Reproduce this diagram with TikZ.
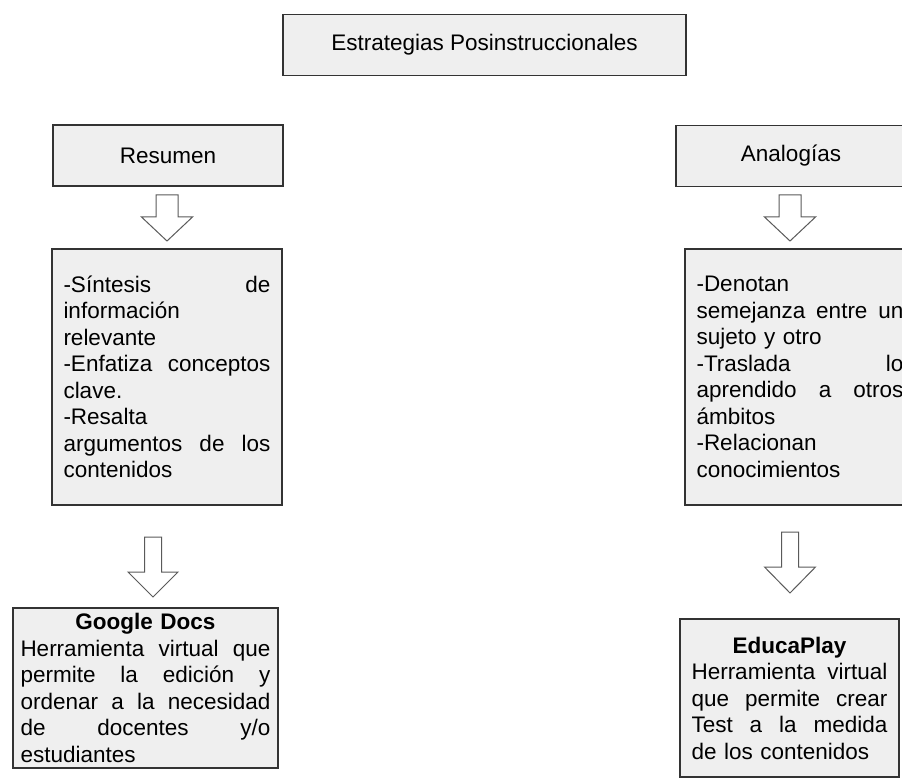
\documentclass[tikz,border=0pt]{standalone}
\usepackage{fontspec}
\setmainfont{Liberation Sans}
\definecolor{boxfill}{HTML}{EFEFEF}
\definecolor{boxline}{HTML}{333333}
\definecolor{arrline}{HTML}{5A5A5A}
\tikzset{
  boxnode/.style={draw=boxline, fill=boxfill, line width=1.3pt,
    font=\fontsize{22.5}{26.5}\selectfont, inner sep=0pt, anchor=center},
  textbox/.style={boxnode, align=left},
  arrowshape/.style={draw=arrline, fill=white, line width=1pt, line join=miter},
}
\newcommand{\jl}[1]{\leavevmode\hbox to\hsize{#1}}
\newcommand{\cl}[1]{\leavevmode\hbox to\hsize{\hfil#1\hfil}}
\newcommand{\blkarrow}[6]{\draw[arrowshape] ({#1-#3},#2) -- ({#1+#3},#2) -- ({#1+#3},#4) -- ({#1+#5},#4) -- (#1,#6) -- ({#1-#5},#4) -- ({#1-#3},#4) -- cycle;}
\begin{document}
\begin{tikzpicture}[x=1pt,y=-1pt]
\fill[white] (0,0) rectangle (902,778);
\useasboundingbox (0,0) rectangle (902,778);

\node[boxnode, minimum width=403pt, minimum height=61pt] (top) at (484.5,45) {Estrategias Posinstruccionales};
\node[boxnode, minimum width=230pt, minimum height=61pt] (res) at (168,155.5) {Resumen};
\node[boxnode, minimum width=230pt, minimum height=61pt] (ana) at (791,156) {Analogías};

\node[textbox, text width=207pt, inner xsep=11.5pt, minimum height=256pt] (resd) at (167,377) {%
\jl{-Síntesis\hfill de}\\
información\\
relevante\\
\jl{-Enfatiza\hfill conceptos}\\
clave.\\
-Resalta\\
\jl{argumentos\hfill de\hfill los}\\
contenidos};

\node[textbox, text width=207pt, inner xsep=11.5pt, minimum height=256pt] (anad) at (800,377) {%
-Denotan\\
\jl{semejanza\hfill entre\hfill un}\\
sujeto y otro\\
\jl{-Traslada\hfill lo}\\
\jl{aprendido\hfill a\hfill otros}\\
ámbitos\\
-Relacionan\\
conocimientos};

\node[textbox, text width=250pt, inner xsep=7.5pt, minimum height=160pt] (gdocs) at (145.5,688) {%
\cl{\bfseries Google Docs}\\
\jl{Herramienta\hfill virtual\hfill que}\\
\jl{permite\hfill la\hfill edición\hfill y}\\
\jl{ordenar\hfill a\hfill la\hfill necesidad}\\
\jl{de\hfill docentes\hfill y/o}\\
estudiantes};

\node[textbox, text width=196pt, inner xsep=11.5pt, minimum height=158pt] (edu) at (789.5,698) {%
\cl{\bfseries EducaPlay}\\
\jl{Herramienta\hfill virtual}\\
\jl{que\hfill permite\hfill crear}\\
\jl{Test\hfill a\hfill la\hfill medida}\\
de los contenidos};

\blkarrow{167}{195}{11}{217}{25.5}{241}
\blkarrow{790}{195}{11}{217}{25.5}{241}
\blkarrow{153}{537}{8.5}{572}{25}{597}
\blkarrow{790}{532}{8.5}{567}{25.5}{593}
\end{tikzpicture}
\end{document}
